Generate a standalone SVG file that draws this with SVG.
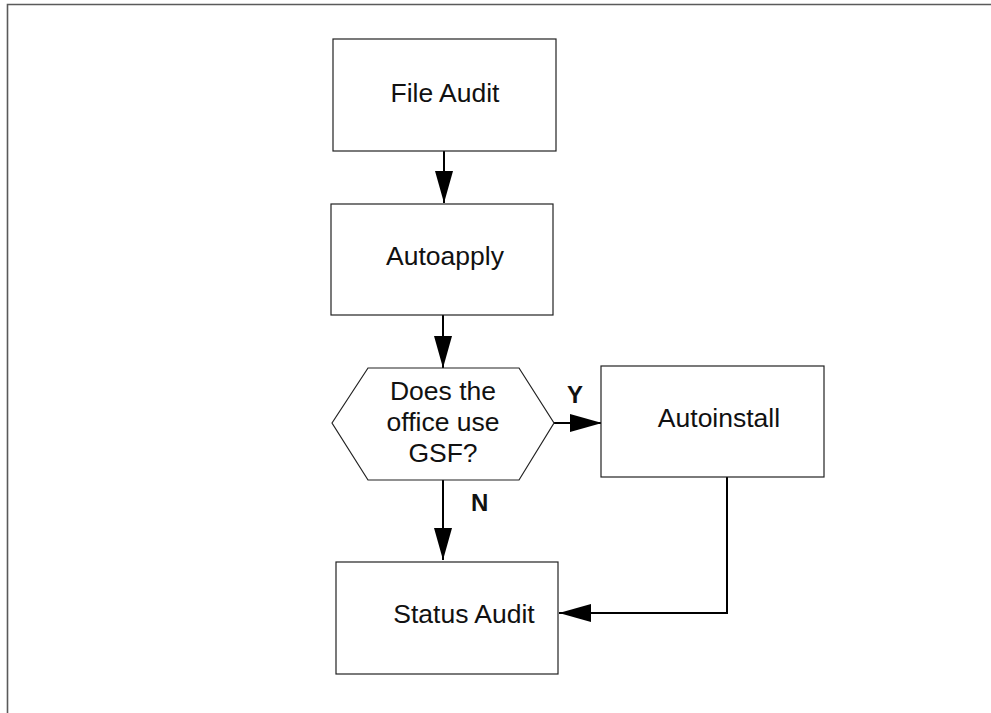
<svg xmlns="http://www.w3.org/2000/svg" width="991" height="713" viewBox="0 0 991 713">
  <defs>
    <style>
      .box { fill: #ffffff; stroke: #222222; stroke-width: 1.2; }
      .lbl { font-family: "Liberation Sans", Arial, sans-serif; font-size: 26.5px; fill: #111111; text-anchor: middle; }
      .yn { font-family: "Liberation Sans", Arial, sans-serif; font-size: 24px; font-weight: bold; fill: #111111; }
      .conn { fill: none; stroke: #000000; stroke-width: 2; }
      .frame { fill: none; stroke: #5a5a5a; stroke-width: 1.6; }
    </style>
    <marker id="arrow" markerUnits="userSpaceOnUse" markerWidth="33" markerHeight="19" refX="32" refY="9" orient="auto">
      <path d="M0,0 L32,9 L0,18 Z" fill="#000000"/>
    </marker>
  </defs>
  <rect x="0" y="0" width="991" height="713" fill="#ffffff"/>
  <path class="frame" d="M7.5,713 L7.5,4.5 L991,4.5"/>

  <g id="connectors">
    <line class="conn" x1="444" y1="151" x2="444" y2="203" marker-end="url(#arrow)"/>
    <line class="conn" x1="443" y1="315" x2="443" y2="368" marker-end="url(#arrow)"/>
    <line class="conn" x1="554" y1="423" x2="602" y2="423" marker-end="url(#arrow)"/>
    <line class="conn" x1="443" y1="480" x2="443" y2="560" marker-end="url(#arrow)"/>
    <polyline class="conn" points="727,477 727,613 559,613" marker-end="url(#arrow)"/>
    <text class="yn" x="567" y="403">Y</text>
    <text class="yn" x="471" y="511">N</text>
  </g>

  <g id="file-audit">
    <rect class="box" x="333" y="39" width="223" height="112"/>
    <text class="lbl" x="445" y="102">File Audit</text>
  </g>

  <g id="autoapply">
    <rect class="box" x="331" y="204" width="222" height="111"/>
    <text class="lbl" x="445" y="265">Autoapply</text>
  </g>

  <g id="decision">
    <polygon class="box" points="332,423 368,368 519,368 554,423 519,480 368,480"/>
    <text class="lbl" x="443" y="400">Does the</text>
    <text class="lbl" x="443" y="431">office use</text>
    <text class="lbl" x="443" y="462">GSF?</text>
  </g>

  <g id="autoinstall">
    <rect class="box" x="601" y="366" width="223" height="111"/>
    <text class="lbl" x="719" y="427">Autoinstall</text>
  </g>

  <g id="status-audit">
    <rect class="box" x="336" y="562" width="222" height="112"/>
    <text class="lbl" x="464" y="623">Status Audit</text>
  </g>
</svg>
